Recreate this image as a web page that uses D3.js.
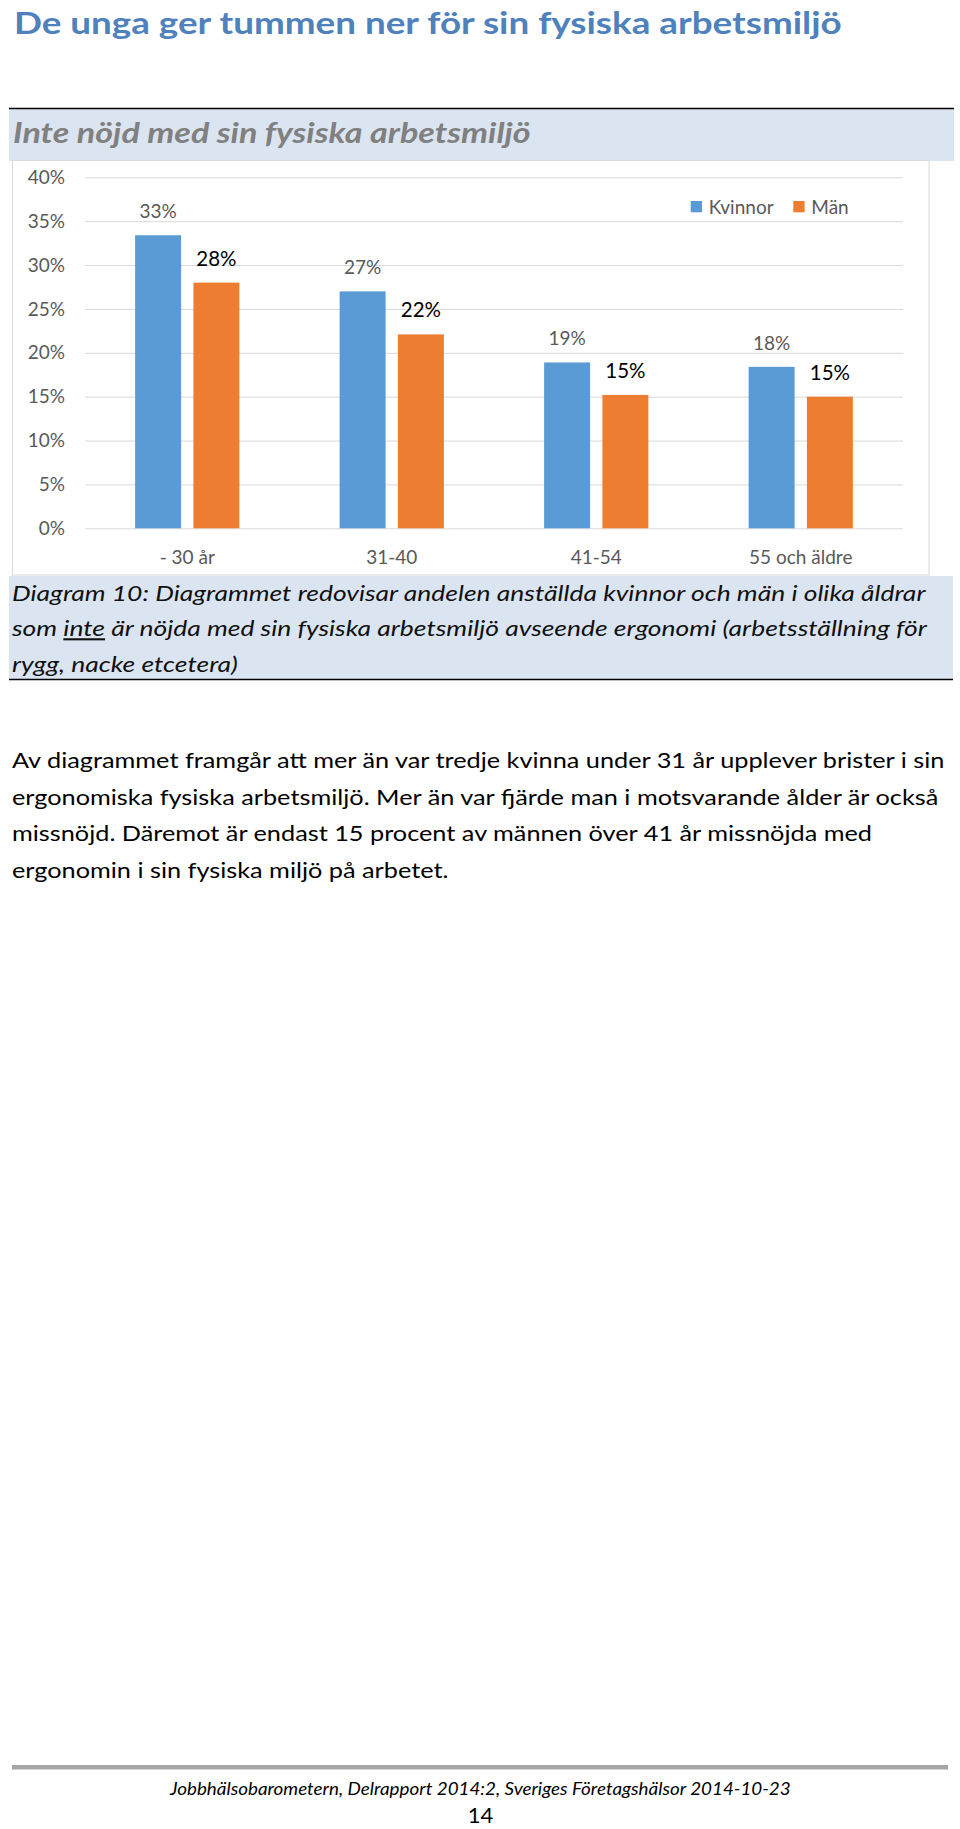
<!DOCTYPE html>
<html>
<head>
<meta charset="utf-8">
<script src="https://cdn.jsdelivr.net/npm/d3@7"></script>
<style>
  html, body { margin: 0; padding: 0; background: #fff; }
  svg { display: block; }
</style>
</head>
<body>
<svg id="page" width="960" height="1829"></svg>
<script>
// ---------------- DATA ----------------
const categories = ["- 30 år", "31-40", "41-54", "55 och äldre"];
const seriesNames = ["Kvinnor", "Män"];
const kvinnor = [33.4, 27.0, 18.9, 18.4];
const man = [28.0, 22.1, 15.2, 15.0];
const yTicks = [0, 5, 10, 15, 20, 25, 30, 35, 40];

const titleText = "De unga ger tummen ner för sin fysiska arbetsmiljö";
const chartTitle = "Inte nöjd med sin fysiska arbetsmiljö";
const captionLines = [
  ["Diagram 10: Diagrammet redovisar andelen anställda kvinnor och män i olika åldrar"],
  ["som ", "inte", " är nöjda med sin fysiska arbetsmiljö avseende ergonomi (arbetsställning för"],
  ["rygg, nacke etcetera)"]
];
const paragraphLines = [
  "Av diagrammet framgår att mer än var tredje kvinna under 31 år upplever brister i sin",
  "ergonomiska fysiska arbetsmiljö. Mer än var fjärde man i motsvarande ålder är också",
  "missnöjd. Däremot är endast 15 procent av männen över 41 år missnöjda med",
  "ergonomin i sin fysiska miljö på arbetet."
];
const footerText = "Jobbhälsobarometern, Delrapport 2014:2, Sveriges Företagshälsor 2014-10-23";
const pageNumber = "14";

// ---------------- SETUP ----------------
const FONT = "Lato, 'Open Sans', 'DejaVu Sans', sans-serif";
const svg = d3.select("#page");
svg.append("rect").attr("width", 960).attr("height", 1829).attr("fill", "#fff");

// helper: block of left-aligned lines, horizontally scaled so reference line hits target width
function textBlock(parent, x0, lines, baselines, style, refIdx, targetWidth) {
  const g = parent.append("g");
  const texts = lines.map((ln, i) => {
    const t = g.append("text")
      .attr("x", 0).attr("y", baselines[i])
      .attr("font-family", FONT)
      .attr("font-size", style.size)
      .attr("font-weight", style.weight || "normal")
      .attr("font-style", style.italic ? "italic" : "normal")
      .attr("fill", style.color);
    const parts = Array.isArray(ln) ? ln : [ln];
    parts.forEach((p, j) => {
      const ts = t.append("tspan").text(p);
      if (style.underline && style.underline(i, j)) ts.attr("text-decoration", "underline");
    });
    return t;
  });
  const w = texts[refIdx].node().getComputedTextLength();
  const sx = targetWidth / w;
  g.attr("transform", `translate(${x0},0) scale(${sx},1)`);
  return g;
}

// ---------------- PAGE TITLE ----------------
textBlock(svg, 14, [titleText], [34.5],
  { size: 31, weight: "bold", color: "#4F81BD" }, 0, 828);

// ---------------- CHART HEADER BAND ----------------
svg.append("rect").attr("x", 9).attr("y", 108).attr("width", 945).attr("height", 53)
  .attr("fill", "#DBE5F1");
svg.append("line").attr("x1", 9).attr("x2", 954).attr("y1", 108.5).attr("y2", 108.5)
  .attr("stroke", "#000").attr("stroke-width", 1.3);
textBlock(svg, 13, [chartTitle], [143],
  { size: 28, weight: "bold", italic: true, color: "#808080" }, 0, 518);

// ---------------- CHART BOX ----------------
svg.append("rect").attr("x", 12.5).attr("y", 160.5).attr("width", 916.5).attr("height", 414.5)
  .attr("fill", "#fff").attr("stroke", "#D9D9D9").attr("stroke-width", 1);

const plot = { left: 85, right: 903, top: 177.3, bottom: 528.3 };
const y = d3.scaleLinear().domain([0, 40]).range([plot.bottom, plot.top]);
const x0 = d3.scaleBand().domain(categories).range([plot.left, plot.right]).paddingInner(0).paddingOuter(0);
const x1 = d3.scaleBand().domain(seriesNames).range([0, x0.bandwidth()]).paddingInner(0.211).paddingOuter(0.86);
const color = d3.scaleOrdinal().domain(seriesNames).range(["#5B9BD5", "#ED7D31"]);

// y axis + gridlines
const yAxis = svg.append("g").attr("transform", `translate(${plot.left},0)`)
  .call(d3.axisLeft(y).tickValues(yTicks).tickFormat(d => d + "%")
    .tickSize(-(plot.right - plot.left)).tickPadding(20));
yAxis.select(".domain").remove();
yAxis.selectAll(".tick line").attr("stroke", "#D9D9D9").attr("stroke-width", 1);
yAxis.selectAll(".tick text").attr("font-family", FONT).attr("font-size", 19)
  .attr("fill", "#595959");

// x axis labels
const xAxis = svg.append("g").attr("transform", `translate(0,${plot.bottom})`)
  .call(d3.axisBottom(x0).tickSize(0).tickPadding(22));
xAxis.select(".domain").remove();
xAxis.selectAll(".tick text").attr("font-family", FONT).attr("font-size", 19)
  .attr("fill", "#595959");

// bars
const rows = categories.map((c, i) => ({ cat: c, values: [
  { s: "Kvinnor", v: kvinnor[i] }, { s: "Män", v: man[i] } ] }));
const groups = svg.append("g").selectAll("g").data(rows).join("g")
  .attr("transform", d => `translate(${x0(d.cat)},0)`);
groups.selectAll("rect").data(d => d.values).join("rect")
  .attr("x", d => x1(d.s)).attr("width", x1.bandwidth())
  .attr("y", d => y(d.v)).attr("height", d => y(0) - y(d.v))
  .attr("fill", d => color(d.s));
groups.selectAll("text.lbl").data(d => d.values).join("text")
  .attr("class", "lbl")
  .attr("x", d => x1(d.s) + x1.bandwidth() / 2)
  .attr("y", d => y(d.v) - 17)
  .attr("text-anchor", "middle")
  .attr("font-family", FONT)
  .attr("font-size", d => d.s === "Kvinnor" ? 19 : 20.5)
  .attr("fill", d => d.s === "Kvinnor" ? "#595959" : "#000")
  .text(d => Math.round(d.v) + "%");

// legend
const legendX = [690.7, 793.3];
const leg = svg.append("g").selectAll("g").data(seriesNames).join("g")
  .attr("transform", (d, i) => `translate(${legendX[i]},201)`);
leg.append("rect").attr("width", 11.3).attr("height", 11.3).attr("fill", d => color(d));
leg.append("text").attr("x", 18).attr("y", 12.5)
  .attr("font-family", FONT).attr("font-size", 19).attr("fill", "#595959")
  .text(d => d);

// ---------------- CAPTION BAND ----------------
svg.append("rect").attr("x", 9).attr("y", 576).attr("width", 944).attr("height", 103)
  .attr("fill", "#DBE5F1");
svg.append("line").attr("x1", 9).attr("x2", 953).attr("y1", 679.5).attr("y2", 679.5)
  .attr("stroke", "#000").attr("stroke-width", 1.3);
textBlock(svg, 12, captionLines, [601, 636.5, 672],
  { size: 21, italic: true, color: "#111",
    underline: (i, j) => i === 1 && j === 1 }, 0, 914);

// ---------------- PARAGRAPH ----------------
textBlock(svg, 12, paragraphLines, [768, 805, 841.5, 878],
  { size: 21, color: "#000" }, 0, 933);

// ---------------- FOOTER ----------------
svg.append("rect").attr("x", 12).attr("y", 1765).attr("width", 936).attr("height", 4.5)
  .attr("fill", "#A6A6A6");
textBlock(svg, 170, [footerText], [1795],
  { size: 17, italic: true, color: "#000" }, 0, 621);
svg.append("text").attr("x", 480.5).attr("y", 1823).attr("text-anchor", "middle")
  .attr("font-family", FONT).attr("font-size", 22).attr("fill", "#000").text(pageNumber);
</script>
</body>
</html>
